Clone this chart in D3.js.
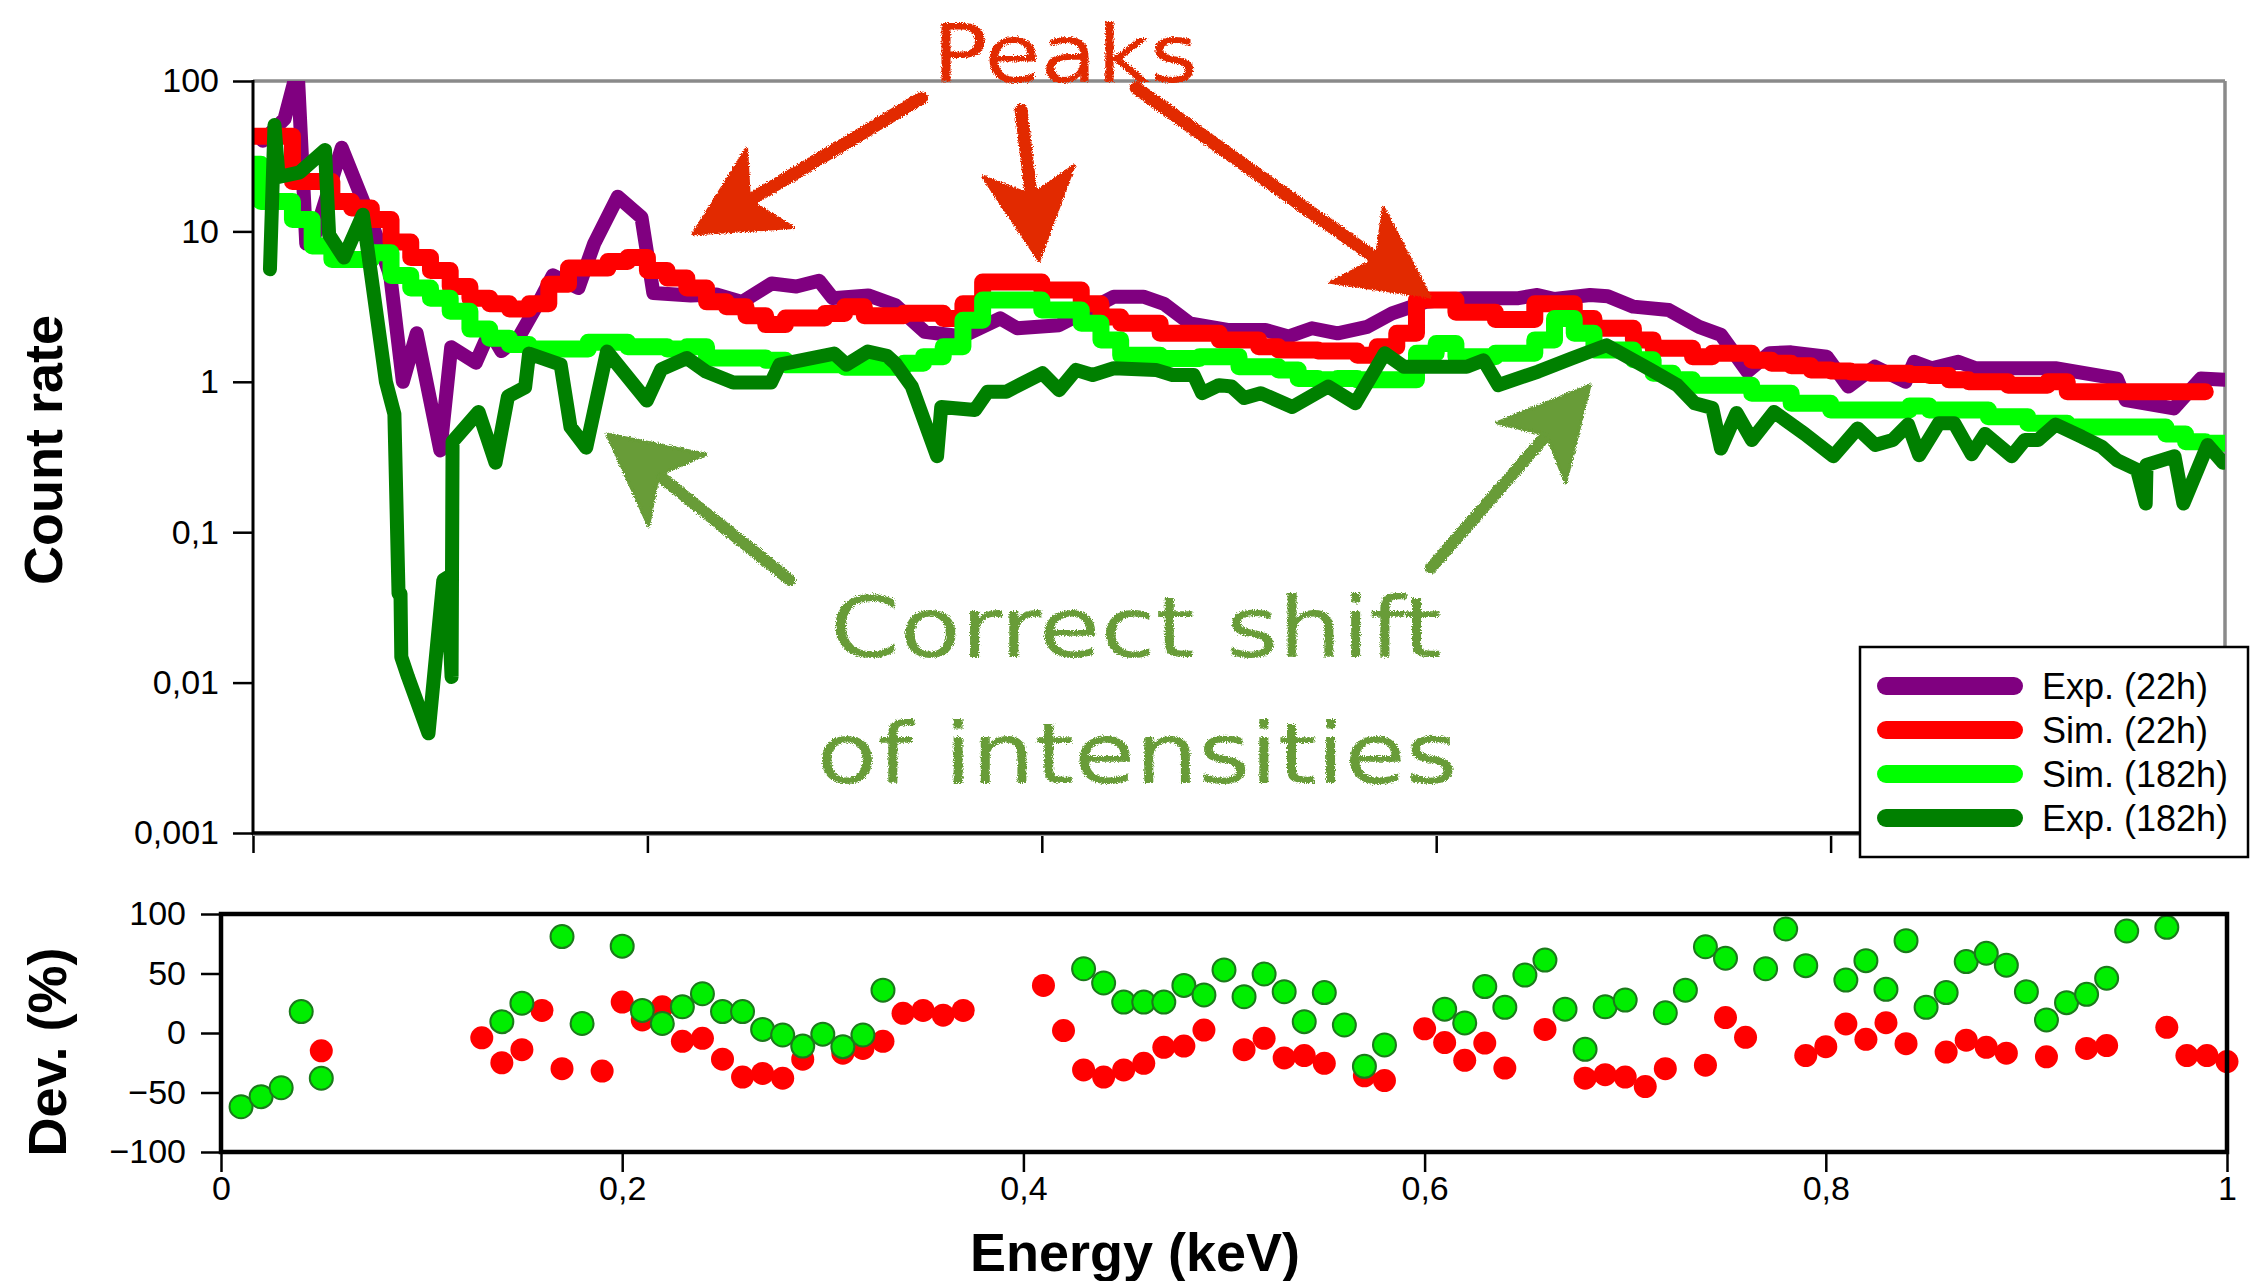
<!DOCTYPE html>
<html>
<head>
<meta charset="utf-8">
<script src="https://cdn.jsdelivr.net/npm/d3@7"></script>
<style>
  body { margin: 0; background: #fff; }
  svg { display: block; font-family: "Liberation Sans", Arial, Helvetica, sans-serif; }
</style>
</head>
<body>
<svg id="chart" width="2250" height="1281"></svg>
<script>
// Simulated spectra: one value per 0.01 keV bin, starting at 0.00 keV
const simEnergy = d3.range(100).map(i => i / 100);
const sim22 = [
  43, 43, 21.5, 21.5, 15.8, 14.3, 12, 8.5, 6.7, 5.5,
  4.3, 3.6, 3.3, 3.05, 3.3, 4.45, 5.7, 5.7, 6.3, 6.7,
  5.5, 4.9, 4.2, 3.4, 3.15, 2.75, 2.4, 2.66, 2.66, 2.85,
  3.15, 2.75, 2.75, 2.86, 2.86, 2.64, 3.3, 4.6, 4.6, 4.6,
  4.07, 4.07, 3.3, 2.7, 2.45, 2.45, 2.1, 2.1, 2.1, 1.9,
  1.9, 1.71, 1.63, 1.63, 1.6, 1.6, 1.5, 1.71, 2.1, 3.5,
  3.5, 2.9, 2.9, 2.6, 2.6, 3.3, 3.3, 2.64, 2.27, 2.27,
  1.9, 1.67, 1.67, 1.47, 1.55, 1.55, 1.39, 1.33, 1.28, 1.2,
  1.18, 1.16, 1.14, 1.14, 1.12, 1.1, 1.03, 1.0, 1.0, 0.95,
  0.95, 1.0, 0.86, 0.86, 0.86, 0.86, 0.86, 0.86, 0.86, 0.86
];
const sim182 = [
  15.8, 15.8, 12, 8.0, 6.5, 6.5, 7.2, 5.1, 4.2, 3.6,
  2.95, 2.24, 1.95, 1.77, 1.65, 1.65, 1.65, 1.83, 1.83, 1.71,
  1.71, 1.65, 1.71, 1.44, 1.44, 1.44, 1.39, 1.3, 1.3, 1.3,
  1.25, 1.25, 1.25, 1.33, 1.47, 1.71, 2.57, 3.5, 3.5, 3.5,
  3.0, 3.0, 2.45, 1.9, 1.5, 1.5, 1.43, 1.43, 1.47, 1.47,
  1.26, 1.26, 1.2, 1.05, 1.03, 1.05, 1.03, 1.03, 1.03, 1.55,
  1.8, 1.47, 1.47, 1.55, 1.55, 1.9, 2.64, 2.1, 1.63, 1.63,
  1.4, 1.14, 1.03, 0.95, 0.95, 0.95, 0.84, 0.84, 0.72, 0.72,
  0.65, 0.65, 0.65, 0.65, 0.69, 0.65, 0.65, 0.65, 0.585, 0.585,
  0.53, 0.53, 0.5, 0.5, 0.5, 0.5, 0.5, 0.45, 0.4, 0.39
];
const sim22End = 0.99;
const sim182End = 1.0;
// first, very short bin of the 182h simulation: [energy, value]
const sim182Lead = [0, 28];
const sim182FirstBin = 0.004;

// Measured spectra: [energy keV, count rate]
const exp22 = [
  [0.005, 40], [0.016, 56], [0.0226, 120], [0.027, 8.3], [0.03, 8.3], [0.045, 36],
  [0.06, 11.6], [0.0696, 5.1], [0.076, 1.0], [0.083, 2.1], [0.095, 0.35], [0.1005, 1.7],
  [0.113, 1.34], [0.12, 2.17], [0.126, 1.6], [0.135, 2.0], [0.145, 3.4], [0.152, 5.1],
  [0.165, 4.2], [0.173, 8.3], [0.185, 17], [0.197, 12.4], [0.203, 3.9], [0.222, 3.75],
  [0.235, 3.8], [0.248, 3.4], [0.263, 4.5], [0.2755, 4.3], [0.287, 4.7], [0.294, 3.6],
  [0.312, 3.75], [0.3256, 3.24], [0.3406, 2.15], [0.3597, 2.0], [0.3789, 2.64], [0.3875, 2.27],
  [0.4088, 2.38], [0.4365, 3.68], [0.4515, 3.68], [0.462, 3.3], [0.475, 2.45], [0.4942, 2.21],
  [0.5134, 2.21], [0.525, 2.0], [0.537, 2.27], [0.55, 2.1], [0.565, 2.32], [0.5776, 2.85],
  [0.5947, 3.4], [0.614, 3.59], [0.6417, 3.6], [0.6513, 3.78], [0.66, 3.55], [0.678, 3.78],
  [0.687, 3.7], [0.7, 3.16], [0.718, 3.0], [0.7333, 2.32], [0.7444, 2.05], [0.7578, 1.17],
  [0.769, 1.55], [0.78, 1.57], [0.798, 1.47], [0.809, 0.93], [0.8225, 1.26], [0.838, 1.0],
  [0.8424, 1.36], [0.8513, 1.23], [0.8647, 1.36], [0.8736, 1.23], [0.914, 1.23], [0.9452, 1.05],
  [0.9497, 0.755], [0.974, 0.665], [0.9877, 1.05], [1.0, 1.03]
];
const exp182 = [
  [0.0086, 5.6], [0.0109, 51], [0.013, 23], [0.0237, 24.7], [0.0365, 34.8], [0.0386, 9.5],
  [0.0461, 6.7], [0.0557, 12.9], [0.0674, 1.0], [0.0717, 0.61], [0.0738, 0.039], [0.0748, 0.039],
  [0.0752, 0.0148], [0.0786, 0.0109], [0.089, 0.0046], [0.0965, 0.048], [0.0985, 0.05], [0.1007, 0.0109],
  [0.1012, 0.4], [0.1144, 0.63], [0.123, 0.29], [0.1293, 0.8], [0.138, 0.92], [0.14, 1.54],
  [0.156, 1.3], [0.161, 0.5], [0.169, 0.365], [0.1795, 1.59], [0.1997, 0.75], [0.207, 1.21],
  [0.22, 1.44], [0.2296, 1.17], [0.2435, 0.99], [0.2627, 0.99], [0.267, 1.3], [0.2947, 1.54],
  [0.301, 1.3], [0.3118, 1.59], [0.3214, 1.49], [0.3256, 1.33], [0.3341, 0.93], [0.3469, 0.32],
  [0.349, 0.68], [0.3661, 0.65], [0.3725, 0.86], [0.382, 0.86], [0.4003, 1.14], [0.4088, 0.88],
  [0.4173, 1.2], [0.4258, 1.11], [0.4365, 1.23], [0.4578, 1.2], [0.4663, 1.11], [0.477, 1.11],
  [0.4813, 0.84], [0.4898, 0.95], [0.4962, 0.93], [0.5026, 0.78], [0.511, 0.84], [0.527, 0.68],
  [0.5452, 0.93], [0.559, 0.72], [0.5739, 1.55], [0.5836, 1.26], [0.6155, 1.26], [0.624, 1.39],
  [0.6315, 0.95], [0.6517, 1.17], [0.6686, 1.43], [0.6864, 1.75], [0.7088, 1.2], [0.7222, 0.95],
  [0.7311, 0.72], [0.74, 0.67], [0.7444, 0.36], [0.7523, 0.62], [0.7601, 0.41], [0.7713, 0.63],
  [0.7869, 0.45], [0.8014, 0.32], [0.8137, 0.49], [0.8226, 0.38], [0.8315, 0.41], [0.8393, 0.52],
  [0.8449, 0.325], [0.8549, 0.53], [0.8627, 0.53], [0.8716, 0.33], [0.8783, 0.45], [0.8918, 0.32],
  [0.8985, 0.41], [0.9052, 0.41], [0.9141, 0.52], [0.9275, 0.43], [0.9375, 0.37], [0.9454, 0.3],
  [0.9554, 0.26], [0.9598, 0.155], [0.9602, 0.28], [0.9744, 0.32], [0.9789, 0.155], [0.9912, 0.38],
  [0.999, 0.29]
];

// Deviation of simulation from experiment, % : [energy keV, dev]
const dev22 = [
  [0.05, -15], [0.13, -4], [0.14, -25], [0.15, -14], [0.16, 19], [0.17, -30], [0.19, -32],
  [0.2, 26], [0.21, 11], [0.22, 22], [0.23, -7], [0.24, -4.5], [0.25, -22], [0.26, -37],
  [0.27, -34], [0.28, -38], [0.29, -22], [0.31, -17], [0.32, -13], [0.33, -7], [0.34, 16.5],
  [0.35, 19], [0.36, 15], [0.37, 19], [0.41, 40], [0.42, 2], [0.43, -31], [0.44, -37],
  [0.45, -31], [0.46, -25.5], [0.47, -12], [0.48, -11], [0.49, 2.5], [0.51, -14], [0.52, -4.5],
  [0.53, -21], [0.54, -19], [0.55, -25.5], [0.57, -36], [0.58, -40], [0.6, 3.5], [0.61, -8],
  [0.62, -23], [0.63, -8.5], [0.64, -29.5], [0.66, 3], [0.68, -38], [0.69, -35], [0.7, -37],
  [0.71, -45], [0.72, -30], [0.74, -27], [0.75, 13], [0.76, -3.6], [0.79, -19], [0.8, -11.5],
  [0.81, 7.6], [0.82, -5.3], [0.83, 8.7], [0.84, -9], [0.86, -16], [0.87, -6], [0.88, -12],
  [0.89, -17], [0.91, -20], [0.93, -13], [0.94, -10.6], [0.97, 4.8], [0.98, -19], [0.99, -19],
  [1.0, -24]
];
const dev182 = [
  [0.01, -62], [0.02, -53.5], [0.03, -46], [0.04, 18], [0.05, -38], [0.14, 9.5], [0.15, 25],
  [0.17, 81], [0.18, 8], [0.2, 73], [0.21, 19], [0.22, 8], [0.23, 22], [0.24, 33], [0.25, 18],
  [0.26, 18], [0.27, 3], [0.28, -1.7], [0.29, -11], [0.3, -1], [0.31, -11.5], [0.32, -1.7],
  [0.33, 36], [0.43, 54], [0.44, 42], [0.45, 26], [0.46, 26], [0.47, 26], [0.48, 40], [0.49, 32],
  [0.5, 53], [0.51, 30.5], [0.52, 49.6], [0.53, 34.7], [0.54, 9.5], [0.55, 34], [0.56, 6.7],
  [0.57, -28], [0.58, -10], [0.61, 20], [0.62, 8.5], [0.63, 39], [0.64, 21.6], [0.65, 48.7],
  [0.66, 61.3], [0.67, 20], [0.68, -13.7], [0.69, 22], [0.7, 27.7], [0.72, 17], [0.73, 36],
  [0.74, 72.5], [0.75, 62.8], [0.77, 54], [0.78, 87.4], [0.79, 56.6], [0.81, 44.5], [0.82, 60.8],
  [0.83, 36.7], [0.84, 77.6], [0.85, 21.6], [0.86, 34], [0.87, 60], [0.88, 67], [0.89, 57],
  [0.9, 34.7], [0.91, 11], [0.92, 25.5], [0.93, 32.5], [0.94, 46], [0.95, 85.7], [0.97, 88.8]
];

const countTicks = [0.001, 0.01, 0.1, 1, 10, 100];
const energyTicks = [0, 0.2, 0.4, 0.6, 0.8, 1];
const devTicks = [-100, -50, 0, 50, 100];
const legendLabels = ["Exp. (22h)", "Sim. (22h)", "Sim. (182h)", "Exp. (182h)"];

// annotations, in data coordinates of the upper panel: [tail, tip]
const peakArrows = [
  [[0.339, 77], [0.223, 9.6]],
  [[0.3895, 64], [0.3986, 6.4]],
  [[0.4478, 90], [0.5969, 3.66]]
];
const shiftArrows = [
  [[0.2723, 0.048], [0.1795, 0.45]],
  [[0.5974, 0.058], [0.678, 0.95]]
];

const svg = d3.select("#chart");
const comma = d => String(d).replace(".", ",");

const xTop = d3.scaleLinear([0, 1], [253, 2225]);
const yTop = d3.scaleLog([0.001, 100], [833, 81]);
const xBot = d3.scaleLinear([0, 1], [221, 2227]);
const yBot = d3.scaleLinear([-100, 100], [1152, 914]);

const defs = svg.append("defs");
defs.append("clipPath").attr("id", "plotclip")
  .append("rect").attr("x", 253).attr("y", 81).attr("width", 2225 - 253).attr("height", 833 - 81);
const rough = defs.append("filter").attr("id", "rough")
  .attr("x", "-10%").attr("y", "-10%").attr("width", "120%").attr("height", "120%");
rough.append("feTurbulence").attr("type", "fractalNoise").attr("baseFrequency", 0.9)
  .attr("numOctaves", 2).attr("seed", 3).attr("result", "noise");
rough.append("feDisplacementMap").attr("in", "SourceGraphic").attr("in2", "noise")
  .attr("scale", 5).attr("xChannelSelector", "R").attr("yChannelSelector", "G");

// ---- upper panel: frame ----
svg.append("line").attr("x1", 253).attr("x2", 2225).attr("y1", 81).attr("y2", 81)
  .attr("stroke", "#8a8a8a").attr("stroke-width", 3.5);
svg.append("line").attr("x1", 2225).attr("x2", 2225).attr("y1", 81).attr("y2", 833)
  .attr("stroke", "#8a8a8a").attr("stroke-width", 3.5);

const simPoints = (vals, end, lead) => {
  const pts = vals.map((v, i) => [simEnergy[i], v]);
  if (lead) {
    pts[0][0] = sim182FirstBin;
    pts.unshift(lead);
  }
  pts.push([end, vals[vals.length - 1]]);
  return pts;
};

const series = [
  {name: legendLabels[0], data: exp22, color: "#800080", width: 14, curve: d3.curveLinear},
  {name: legendLabels[1], data: simPoints(sim22, sim22End), color: "#ff0000", width: 17, curve: d3.curveStepAfter},
  {name: legendLabels[2], data: simPoints(sim182, sim182End, sim182Lead), color: "#00ff00", width: 17, curve: d3.curveStepAfter},
  {name: legendLabels[3], data: exp182, color: "#008000", width: 14, curve: d3.curveLinear}
];

const lines = svg.append("g").attr("clip-path", "url(#plotclip)");
series.forEach(s => {
  lines.append("path")
    .attr("d", d3.line().x(d => xTop(d[0])).y(d => yTop(d[1])).curve(s.curve)(s.data))
    .attr("fill", "none").attr("stroke", s.color).attr("stroke-width", s.width)
    .attr("stroke-linejoin", "round").attr("stroke-linecap", "round");
});

// axes of upper panel
const yAxisTop = svg.append("g").attr("transform", "translate(253,0)")
  .call(d3.axisLeft(yTop).tickValues(countTicks).tickFormat(comma).tickSize(20).tickPadding(14));
const xAxisTop = svg.append("g").attr("transform", "translate(0,833)")
  .call(d3.axisBottom(xTop).tickValues(energyTicks).tickFormat("").tickSize(20));
[yAxisTop, xAxisTop].forEach(g => {
  g.select(".domain").remove();
  g.selectAll(".tick line").attr("stroke", "#000").attr("stroke-width", 2.5);
  g.selectAll("text").attr("font-size", 34).attr("fill", "#000").attr("font-family", null);
});
svg.append("line").attr("x1", 253).attr("x2", 253).attr("y1", 80).attr("y2", 835)
  .attr("stroke", "#000").attr("stroke-width", 3);
svg.append("line").attr("x1", 253).attr("x2", 2225).attr("y1", 835).attr("y2", 835)
  .attr("stroke", "#9a9a9a").attr("stroke-width", 2);
svg.append("line").attr("x1", 252).attr("x2", 2225).attr("y1", 833).attr("y2", 833)
  .attr("stroke", "#000").attr("stroke-width", 3.5);

svg.append("text").attr("transform", "translate(62,450) rotate(-90)")
  .attr("text-anchor", "middle").attr("font-size", 54).attr("font-weight", "bold")
  .text("Count rate");

// ---- annotations ----
function arrow(g, tail, tip, color, shaftW) {
  const t = [xTop(tail[0]), yTop(tail[1])];
  const p = [xTop(tip[0]), yTop(tip[1])];
  const dx = p[0] - t[0], dy = p[1] - t[1];
  const len = Math.hypot(dx, dy);
  const u = [dx / len, dy / len], n = [-u[1], u[0]];
  const L = 90, W = 46, notch = 24;
  const at = (a, b) => [p[0] - a * u[0] + b * n[0], p[1] - a * u[1] + b * n[1]];
  const shaftEnd = at(L - notch - 4, 0);
  g.append("path")
    .attr("d", `M${t[0]},${t[1]}L${shaftEnd[0]},${shaftEnd[1]}`)
    .attr("stroke", color).attr("stroke-width", shaftW).attr("stroke-linecap", "round");
  g.append("path")
    .attr("d", d3.line()([p, at(L, W), at(L - notch, 0), at(L, -W)]) + "Z")
    .attr("fill", color).attr("stroke", color).attr("stroke-width", 3).attr("stroke-linejoin", "round");
}

const annRed = "#e22b06", annGreen = "#679c37";
const ann = svg.append("g").attr("filter", "url(#rough)");
peakArrows.forEach(a => arrow(ann, a[0], a[1], annRed, 13));
shiftArrows.forEach(a => arrow(ann, a[0], a[1], annGreen, 12));
const annFont = "'DejaVu Sans', 'Noto Sans', sans-serif";
ann.append("text").attr("x", xTop(0.4118)).attr("y", yTop(98))
  .attr("text-anchor", "middle").attr("font-size", 80).attr("font-family", annFont)
  .attr("fill", annRed).attr("textLength", 265).attr("lengthAdjust", "spacingAndGlyphs")
  .text("Peaks");
ann.append("text").attr("x", xTop(0.4478)).attr("y", yTop(0.0147))
  .attr("text-anchor", "middle").attr("font-size", 84).attr("font-family", annFont)
  .attr("fill", annGreen).attr("textLength", 612).attr("lengthAdjust", "spacingAndGlyphs")
  .text("Correct shift");
ann.append("text").attr("x", xTop(0.4483)).attr("y", yTop(0.00214))
  .attr("text-anchor", "middle").attr("font-size", 84).attr("font-family", annFont)
  .attr("fill", annGreen).attr("textLength", 641).attr("lengthAdjust", "spacingAndGlyphs")
  .text("of intensities");

// ---- legend ----
const legend = svg.append("g");
legend.append("rect").attr("x", 1860).attr("y", 647).attr("width", 388).attr("height", 210)
  .attr("fill", "#fff").attr("stroke", "#000").attr("stroke-width", 2.5);
series.forEach((s, i) => {
  const y = 686 + i * 44;
  legend.append("line").attr("x1", 1886).attr("x2", 2014).attr("y1", y).attr("y2", y)
    .attr("stroke", s.color).attr("stroke-width", 18).attr("stroke-linecap", "round");
  legend.append("text").attr("x", 2042).attr("y", y).attr("dy", "0.36em")
    .attr("font-size", 36).text(s.name);
});

// ---- lower panel: deviations ----
const yAxisBot = svg.append("g").attr("transform", "translate(221,0)")
  .call(d3.axisLeft(yBot).tickValues(devTicks).tickFormat(d => d < 0 ? "\u2212" + Math.abs(d) : d)
    .tickSize(20).tickPadding(15));
const xAxisBot = svg.append("g").attr("transform", "translate(0,1152)")
  .call(d3.axisBottom(xBot).tickValues(energyTicks).tickFormat(comma).tickSize(20).tickPadding(4));
[yAxisBot, xAxisBot].forEach(g => {
  g.select(".domain").remove();
  g.selectAll(".tick line").attr("stroke", "#000").attr("stroke-width", 2.5);
  g.selectAll("text").attr("font-size", 34).attr("fill", "#000").attr("font-family", null);
});

const dots = svg.append("g");
dots.selectAll("circle.r").data(dev22).join("circle")
  .attr("cx", d => xBot(d[0])).attr("cy", d => yBot(d[1])).attr("r", 11.5)
  .attr("fill", "#ff0000");
dots.selectAll("circle.g").data(dev182).join("circle").attr("class", "g")
  .attr("cx", d => xBot(d[0])).attr("cy", d => yBot(d[1])).attr("r", 11.5)
  .attr("fill", "#00ee00").attr("stroke", "#1b7a1b").attr("stroke-width", 2);

svg.append("rect").attr("x", 221).attr("y", 914).attr("width", 2227 - 221).attr("height", 1152 - 914)
  .attr("fill", "none").attr("stroke", "#000").attr("stroke-width", 4.5);

svg.append("text").attr("transform", "translate(66,1052) rotate(-90)")
  .attr("text-anchor", "middle").attr("font-size", 54).attr("font-weight", "bold")
  .text("Dev. (%)");
svg.append("text").attr("x", 1135).attr("y", 1271)
  .attr("text-anchor", "middle").attr("font-size", 54).attr("font-weight", "bold")
  .text("Energy (keV)");
</script>
</body>
</html>
